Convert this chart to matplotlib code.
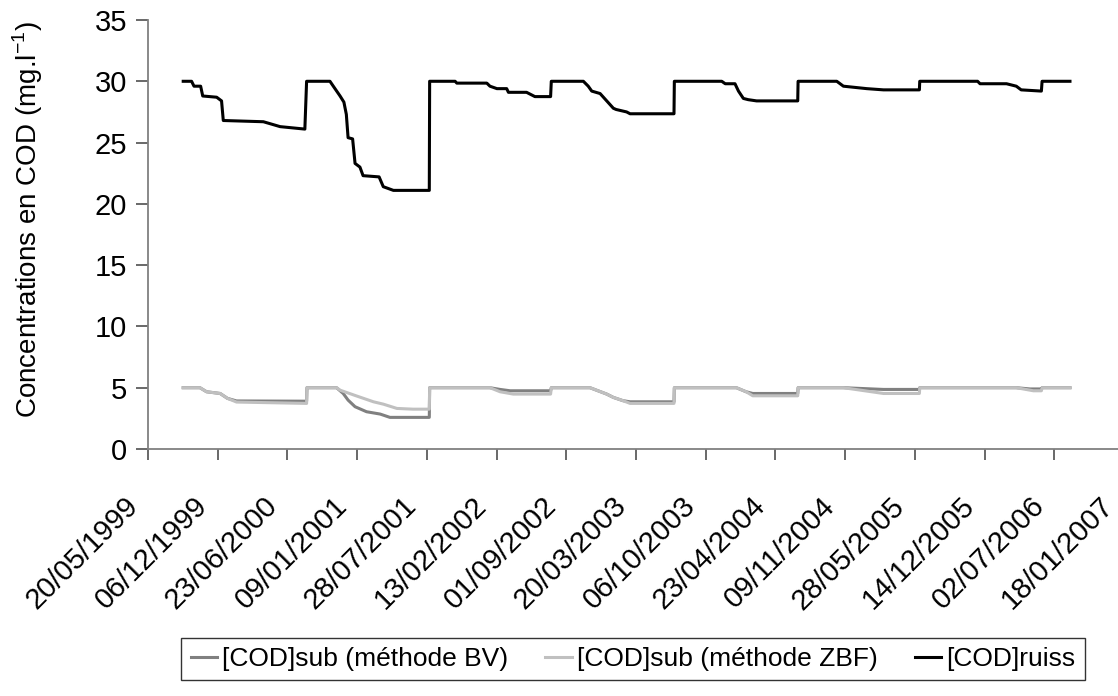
import numpy as np
import matplotlib
matplotlib.use("Agg")
import matplotlib.pyplot as plt
import matplotlib.transforms as mtransforms
import datetime as dt

plt.rcParams['font.family'] = ['Liberation Sans', 'DejaVu Sans']

start = dt.date(1999, 5, 20)

# ---- data (day offsets from 20/05/1999, values in mg/l) ----
ruiss_days = [101, 125, 132, 151, 157, 197, 211, 216, 331, 379, 450, 455,
              522, 534, 551, 562, 569, 574, 587, 594, 608, 617, 663, 675, 704, 807,
              808, 881, 886, 972, 981, 1001, 1029, 1034, 1086, 1110, 1155,
              1157, 1249, 1263, 1273, 1297, 1316, 1335, 1343, 1373, 1383, 1509,
              1510, 1646, 1656, 1684, 1694, 1708, 1722, 1746, 1864,
              1865, 1976, 1995, 2062, 2110, 2213,
              2214, 2380, 2387, 2463, 2491, 2505, 2563,
              2565, 2645]
ruiss_vals = [30.0, 30.0, 29.6, 29.6, 28.8, 28.7, 28.4, 26.8, 26.7, 26.3, 26.1, 30.0,
              30.0, 29.5, 28.8, 28.3, 27.3, 25.4, 25.3, 23.3, 23.0, 22.3, 22.2, 21.4, 21.1, 21.1,
              30.0, 30.0, 29.85, 29.85, 29.6, 29.4, 29.4, 29.1, 29.1, 28.75, 28.75,
              30.0, 30.0, 29.6, 29.2, 29.0, 28.4, 27.8, 27.7, 27.5, 27.35, 27.35,
              30.0, 30.0, 29.8, 29.8, 29.2, 28.6, 28.5, 28.4, 28.4,
              30.0, 30.0, 29.6, 29.4, 29.3, 29.3,
              30.0, 30.0, 29.8, 29.8, 29.6, 29.3, 29.2,
              30.0, 30.0]

bv_days = [101, 149, 168, 207, 228, 254, 455,
           456, 541, 560, 574, 594, 627, 666, 694, 807,
           808, 981, 1010, 1039, 1155,
           1157, 1268, 1316, 1335, 1363, 1383, 1509,
           1510, 1688, 1716, 1735, 1864,
           1865, 1995, 2044, 2110, 2213,
           2214, 2491, 2530, 2563,
           2565, 2645]
bv_vals = [5.0, 5.0, 4.67, 4.53, 4.13, 3.92, 3.9,
           5.0, 5.0, 4.53, 3.99, 3.45, 3.04, 2.85, 2.58, 2.58,
           5.0, 5.0, 4.86, 4.75, 4.75,
           5.0, 5.0, 4.48, 4.21, 3.94, 3.85, 3.85,
           5.0, 5.0, 4.67, 4.53, 4.53,
           5.0, 5.0, 4.94, 4.86, 4.86,
           5.0, 5.0, 4.9, 4.9,
           5.0, 5.0]

zbf_days = [101, 149, 168, 207, 228, 254, 455,
            456, 541, 551, 599, 647, 675, 714, 760, 807,
            808, 981, 1010, 1048, 1155,
            1157, 1268, 1316, 1335, 1363, 1383, 1509,
            1510, 1688, 1716, 1735, 1864,
            1865, 1995, 2044, 2110, 2213,
            2214, 2491, 2540, 2563,
            2565, 2645]
zbf_vals = [5.0, 5.0, 4.67, 4.53, 4.13, 3.83, 3.72,
            5.0, 5.0, 4.8, 4.32, 3.85, 3.66, 3.31, 3.25, 3.25,
            5.0, 5.0, 4.67, 4.48, 4.48,
            5.0, 5.0, 4.48, 4.21, 3.94, 3.72, 3.72,
            5.0, 5.0, 4.67, 4.34, 4.34,
            5.0, 5.0, 4.8, 4.53, 4.53,
            5.0, 5.0, 4.75, 4.75,
            5.0, 5.0]

tick_step_days = 200
n_ticks = 15
labels = ["[COD]sub (méthode BV)", "[COD]sub (méthode ZBF)", "[COD]ruiss"]
ylabel = r"Concentrations en COD (mg.l$^{\mathregular{-1}}$)"


def to_dates(days):
    return [start + dt.timedelta(days=int(d)) for d in days]


fig = plt.figure(figsize=(11.18, 6.96), dpi=100)
L, R, B, T = 148, 1124, 449, 20
W, H = 1118, 696
ax = fig.add_axes([L / W, 1 - B / H, (R - L) / W, (B - T) / H])

ax.plot(to_dates(bv_days), bv_vals, color='#808080', lw=2.2, label=labels[0])
ax.plot(to_dates(zbf_days), zbf_vals, color='#C0C0C0', lw=2.2, label=labels[1])
ax.plot(to_dates(ruiss_days), ruiss_vals, color='#000000', lw=2.2, label=labels[2])

ticks = [start + dt.timedelta(days=tick_step_days * k) for k in range(n_ticks)]
ax.set_xlim(ticks[0], ticks[-1])
ax.set_xticks(ticks)
ax.set_xticklabels([t.strftime('%d/%m/%Y') for t in ticks])
ax.set_ylim(0, 35)
ax.set_yticks(range(0, 36, 5))

for s in ['top', 'right']:
    ax.spines[s].set_visible(False)
for s in ['left', 'bottom']:
    ax.spines[s].set_color('#808080')
    ax.spines[s].set_linewidth(1.3)

ax.tick_params(axis='y', direction='out', length=9, width=1.1, color='#404040',
               labelsize=21, pad=6)
ax.tick_params(axis='x', direction='out', length=8, width=1.1, color='#404040',
               labelsize=21, pad=30)
offset = mtransforms.ScaledTranslation(-0.145, 0, fig.dpi_scale_trans)
for lab in ax.get_xticklabels():
    lab.set_rotation(45)
    lab.set_ha('right')
    lab.set_va('center')
    lab.set_rotation_mode('anchor')
    lab.set_transform(lab.get_transform() + offset)

ax.set_ylabel(ylabel, fontsize=20)
ax.yaxis.set_label_coords(-0.106, 0.535)

leg = fig.legend(loc='center', bbox_to_anchor=(633 / W, 1 - 659 / H), ncol=3,
                 fontsize=19, frameon=True, fancybox=False, edgecolor='black',
                 handlelength=1.0, handletextpad=0.2, columnspacing=1.4,
                 borderpad=0.35)
leg.get_frame().set_linewidth(1.0)

fig.savefig('out.png', dpi=100)
